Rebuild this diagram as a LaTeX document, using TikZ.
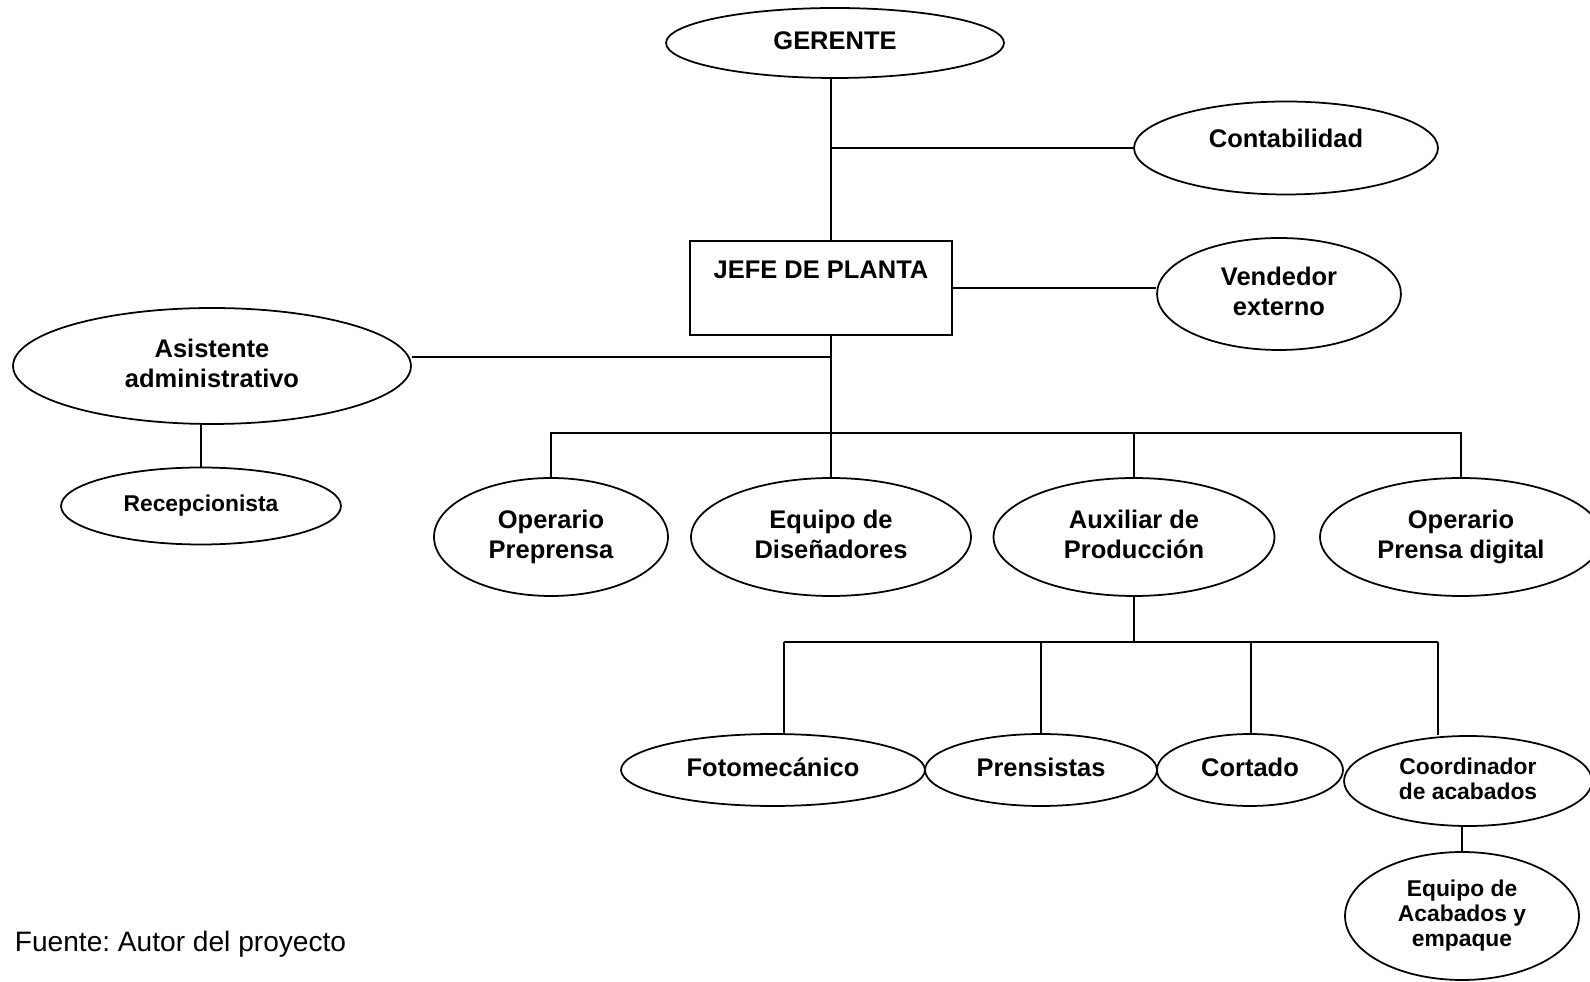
\documentclass[tikz,border=0pt]{standalone}
\usepackage{fontspec}
\setmainfont{Liberation Sans}
\usetikzlibrary{shapes.geometric}
\frenchspacing

\begin{document}
\begin{tikzpicture}[x=0.02cm,y=-0.02cm,line width=1pt,
  oval/.style={draw,ellipse,inner sep=0pt,align=center,text depth=3pt,
               font=\bfseries\fontsize{14.5}{16.7}\selectfont},
  smalloval/.style={oval,text depth=2.7pt,font=\bfseries\fontsize{13}{14.2}\selectfont}]
  \useasboundingbox (0,0) rectangle (1590,982);
  \clip (0,0) rectangle (1590,982);
  \node[oval,minimum width=6.76cm,minimum height=1.4cm] (gerente) at (835,43) {GERENTE};
  \node[oval,minimum width=6.08cm,minimum height=1.86cm,text depth=11.4pt] (conta) at (1286,148) {Contabilidad};
  \node[draw,rectangle,inner sep=0pt,minimum width=5.23cm,minimum height=1.88cm,
        font=\bfseries\fontsize{14.5}{16.7}\selectfont,text height=10.5pt,text depth=21.5pt] (jefe) at (821,288) {JEFE DE PLANTA};
  \node[oval,minimum width=4.88cm,minimum height=2.24cm] (vend) at (1279,294) {Vendedor\\externo};
  \node[oval,minimum width=7.96cm,minimum height=2.32cm] (asist) at (212,366) {Asistente\\administrativo};
  \node[smalloval,minimum width=5.6cm,minimum height=1.54cm] (recep) at (201,506) {Recepcionista};
  \node[oval,minimum width=4.68cm,minimum height=2.36cm] (preprensa) at (551,537) {Operario\\Preprensa};
  \node[oval,minimum width=5.6cm,minimum height=2.36cm] (disen) at (831,537) {Equipo de\\Diseñadores};
  \node[oval,minimum width=5.62cm,minimum height=2.36cm] (aux) at (1134,537) {Auxiliar de\\Producción};
  \node[oval,minimum width=5.64cm,minimum height=2.36cm] (digital) at (1461,537) {Operario\\Prensa digital};
  \node[oval,minimum width=6.08cm,minimum height=1.44cm] (foto) at (773,770) {Fotomecánico};
  \node[oval,minimum width=4.64cm,minimum height=1.44cm] (prens) at (1041,770) {Prensistas};
  \node[oval,minimum width=3.72cm,minimum height=1.44cm] (cortado) at (1250,770) {Cortado};
  \node[smalloval,minimum width=4.96cm,minimum height=1.8cm] (coord) at (1468,781) {Coordinador\\de acabados};
  \node[smalloval,minimum width=4.68cm,minimum height=2.56cm] (acab) at (1462,916) {Equipo de\\Acabados y\\empaque};
  \node[anchor=west,inner sep=0pt,font=\fontsize{16}{19}\selectfont] (fuente) at (14,944) {Fuente: Autor del proyecto};

  \coordinate (jc) at (831,148);
  \coordinate (ja) at (831,357);
  \coordinate (b1) at (831,433);
  \coordinate (b2) at (1134,642);
  \coordinate (c1) at (784,642);
  \coordinate (c4) at (1438,642);

  \draw (gerente.south -| jc) -- (jc) -- (jc |- jefe.north);
  \draw (jc) -- (conta.west);
  \draw (jefe.east) -- (jefe.east -| vend.west);
  \draw (jefe.south -| ja) -- (b1);
  \draw (ja) -- (ja -| asist.east);
  \draw (asist.south -| recep.north) -- (recep.north);
  \draw (preprensa.north) |- (b1) -| (digital.north);
  \draw (b1) -- (disen.north);
  \draw (b1 -| aux.north) -- (aux.north);
  \draw (aux.south) -- (b2);
  \draw (c1) -- (c4);
  \foreach \x/\n in {784/foto,1041/prens,1251/cortado,1438/coord}
    \draw (\x,642) coordinate (t) -- (t |- \n.north);
  \draw (coord.south -| acab.north) -- (acab.north);
\end{tikzpicture}
\end{document}
